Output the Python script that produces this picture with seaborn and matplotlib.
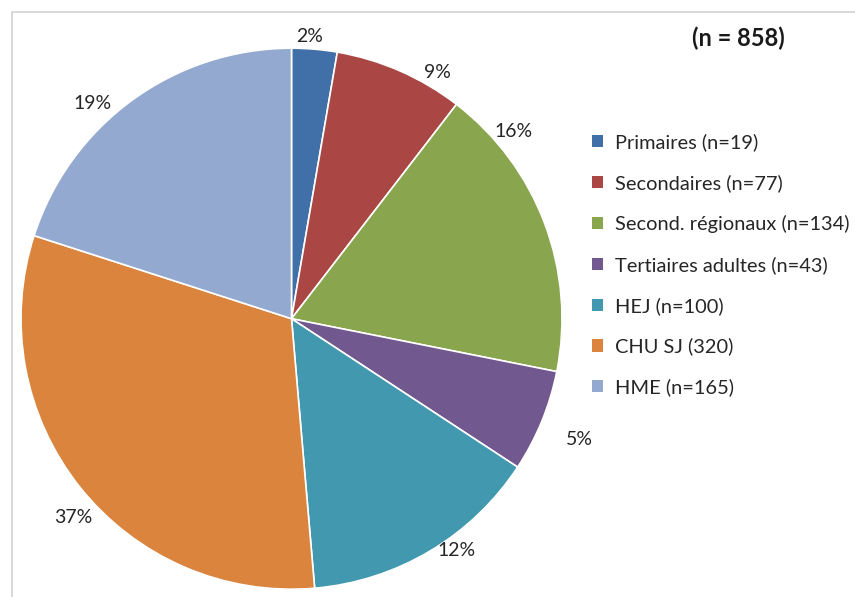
import matplotlib
matplotlib.use("Agg")
import matplotlib.pyplot as plt
import seaborn as sns
from matplotlib.patches import Patch, Rectangle

categories = ["Primaires (n=19)", "Secondaires (n=77)", "Second. régionaux (n=134)",
              "Tertiaires adultes (n=43)", "HEJ (n=100)", "CHU SJ (320)", "HME (n=165)"]
counts = [19, 77, 134, 43, 100, 320, 165]
# slice sizes as drawn in the original chart (share of the circle, %)
slice_share = [2.71, 7.73, 17.69, 6.11, 14.39, 31.33, 20.03]
# percentages printed on the original chart
pct_labels = ["2%", "9%", "16%", "5%", "12%", "37%", "19%"]
colors = ["#4170A8", "#AA4643", "#89A54E", "#71588F", "#4198AF", "#DB843D", "#93A9CF"]
title = "(n = " + str(sum(counts)) + ")"
# label positions (relative to radius) as placed in the original chart
label_pos = [(0.066, 1.045), (0.539, 0.910), (0.819, 0.692), (1.066, -0.448),
             (0.609, -0.858), (-0.808, -0.736), (-0.734, 0.795)]

sns.set_theme(style="white")
plt.rcParams['font.family'] = ['Lato', 'DejaVu Sans']

W, H, dpi = 855, 597, 100
fig = plt.figure(figsize=(W / dpi, H / dpi), dpi=dpi)
fig.patch.set_facecolor("white")

cx, cy, r = 291.5, 318.7, 270.5
ax = fig.add_axes([0, 0, 1, 1])

wedges, _ = ax.pie(slice_share, colors=colors, startangle=90, counterclock=False,
                   radius=1.0, wedgeprops=dict(edgecolor="white", linewidth=1.2))
ax.axis("off")
ax.set_aspect("auto")
ax.set_xlim(-cx / r, (W - cx) / r)
ax.set_ylim(-(H - cy) / r, cy / r)

for lab, (lx, ly) in zip(pct_labels, label_pos):
    ax.text(lx, ly, lab, ha="center", va="center", fontsize=14, color="#262626")

# frame
fig.patches.append(Rectangle((12 / W, -0.1), 1.2, (H - 12) / H + 0.1, transform=fig.transFigure,
                             fill=False, edgecolor="#D9D9D9", linewidth=1.5))

fig.text(738 / W, 1 - 38 / H, title, ha="center", va="center", fontsize=17,
         fontweight="bold", color="#1a1a1a")

handles = [Patch(facecolor=c, edgecolor="none") for c in colors]
leg = fig.legend(handles, categories, loc="upper left",
                 bbox_to_anchor=(592 / W, 1 - 133 / H), frameon=False,
                 fontsize=14.4, handlelength=0.55, handleheight=0.55,
                 handletextpad=0.6, labelspacing=1.15, borderaxespad=0, borderpad=0)
for t in leg.get_texts():
    t.set_color("#262626")

fig.savefig("out.png", dpi=dpi, facecolor="white")
